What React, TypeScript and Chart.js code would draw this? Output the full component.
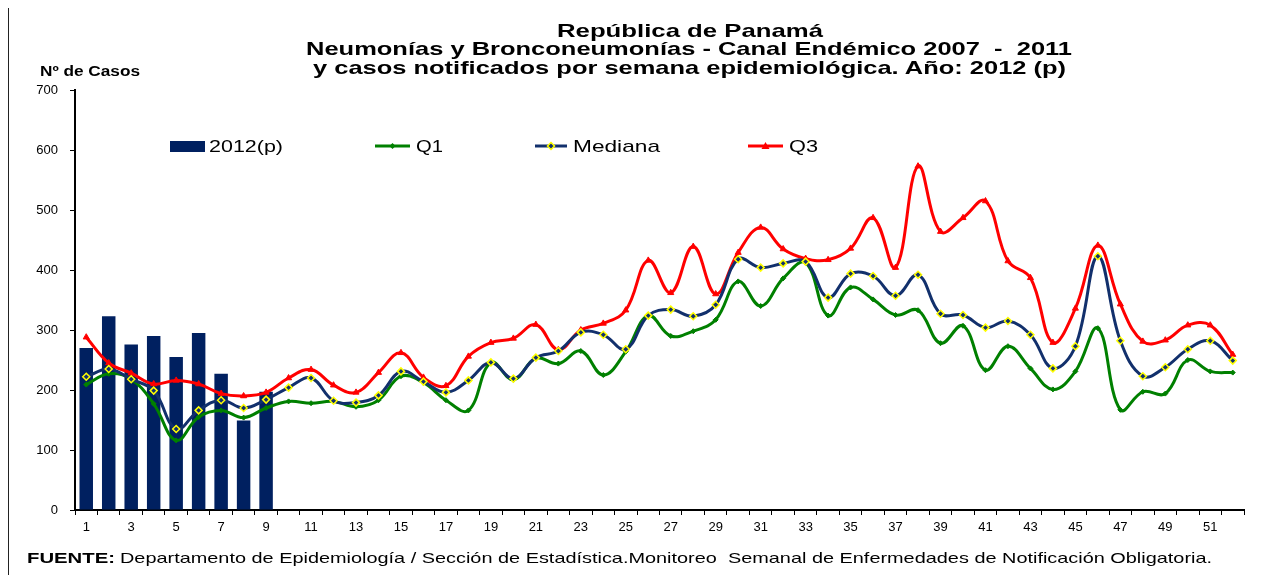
import React, { useEffect, useRef } from "react";
import { Chart, registerables } from "chart.js";

Chart.register(...registerables);

// ---- Data ----
const WEEKS = [
  "1", "2", "3", "4", "5", "6", "7", "8", "9", "10", "11", "12", "13",
  "14", "15", "16", "17", "18", "19", "20", "21", "22", "23", "24", "25", "26",
  "27", "28", "29", "30", "31", "32", "33", "34", "35", "36", "37", "38", "39",
  "40", "41", "42", "43", "44", "45", "46", "47", "48", "49", "50", "51", "52",
];

const CASES_2012 = [270, 323, 276, 290, 255, 295, 227, 149, 197];

const Q1 = [
  209, 227, 218, 177, 116, 155, 166, 154, 170, 181, 178, 181, 172,
  183, 223, 212, 183, 166, 246, 217, 253, 244, 265, 225, 264, 324,
  290, 298, 317, 381, 340, 386, 412, 324, 371, 351, 325, 333, 278,
  307, 233, 273, 236, 201, 231, 303, 167, 197, 194, 250, 231, 229,
];

const MEDIANA = [
  222, 235, 218, 199, 135, 166, 183, 170, 184, 204, 220, 182, 179,
  191, 231, 214, 196, 216, 246, 219, 254, 265, 296, 292, 268, 324,
  334, 323, 342, 418, 404, 411, 414, 354, 394, 390, 357, 392, 327,
  325, 304, 315, 292, 236, 273, 423, 282, 223, 238, 268, 282, 249,
];

const Q3 = [
  288, 245, 228, 210, 216, 210, 194, 190, 196, 220, 234, 208, 196,
  229, 262, 221, 207, 256, 279, 286, 309, 267, 300, 311, 333, 416,
  362, 439, 360, 429, 471, 435, 419, 417, 436, 487, 404, 573, 464,
  487, 515, 415, 387, 279, 336, 441, 343, 281, 283, 308, 308, 259,
];

const Y_MIN = 0;
const Y_MAX = 700;
const Y_STEP = 100;

const TITLE_LINES = [
  "República de Panamá",
  "Neumonías y Bronconeumonías - Canal Endémico 2007  -  2011",
  "y casos notificados por semana epidemiológica. Año: 2012 (p)",
];
const Y_TITLE = "Nº de Casos";
const SOURCE_BOLD = "FUENTE:";
const SOURCE_TEXT =
  "Departamento de Epidemiología / Sección de Estadística.Monitoreo  Semanal de Enfermedades de Notificación Obligatoria.";

// ---- Styles ----
const NAVY_BAR = "#002060";
const NAVY_LINE = "#12306C";
const GREEN = "#008000";
const RED = "#FF0000";
const YELLOW = "#FFFF00";
const FONT = '"Liberation Sans", Arial, sans-serif';

const W = 1258;
const H = 567;

let measureCtx: CanvasRenderingContext2D | null = null;
function textWidth(text: string, font: string): number {
  if (!measureCtx) measureCtx = document.createElement("canvas").getContext("2d");
  measureCtx!.font = font;
  return measureCtx!.measureText(text).width;
}

function FitText(props: { x: number; cy: number; w: number; size: number; bold?: boolean; text: string }) {
  const font = `${props.bold ? "bold " : ""}${props.size}px ${FONT}`;
  const s = props.w / textWidth(props.text, font);
  return (
    <div
      style={{
        position: "absolute",
        left: props.x,
        top: props.cy,
        font,
        lineHeight: 1,
        whiteSpace: "pre",
        color: "#000",
        transform: `translateY(-50%) scaleX(${s})`,
        transformOrigin: "0 50%",
      }}
    >
      {props.text}
    </div>
  );
}

function LegendLine(props: { x: number; cy: number; w: number; color: string; marker: "diamond" | "median" | "triangle" }) {
  const h = 12;
  const mx = props.w / 2;
  const my = h / 2;
  let marker: React.ReactNode = null;
  if (props.marker === "diamond") {
    marker = <polygon points={`${mx},${my - 3} ${mx + 3},${my} ${mx},${my + 3} ${mx - 3},${my}`} fill={GREEN} />;
  } else if (props.marker === "median") {
    marker = (
      <polygon
        points={`${mx},${my - 3.5} ${mx + 3.5},${my} ${mx},${my + 3.5} ${mx - 3.5},${my}`}
        fill={NAVY_LINE}
        stroke={YELLOW}
        strokeWidth={1.5}
      />
    );
  } else {
    marker = <polygon points={`${mx},${my - 4} ${mx + 4},${my + 3} ${mx - 4},${my + 3}`} fill={RED} />;
  }
  return (
    <svg
      width={props.w}
      height={h}
      style={{ position: "absolute", left: props.x, top: props.cy - h / 2 }}
    >
      <line x1={0} y1={my} x2={props.w} y2={my} stroke={props.color} strokeWidth={3} />
      {marker}
    </svg>
  );
}

export default function App() {
  const canvasRef = useRef<HTMLCanvasElement | null>(null);

  useEffect(() => {
    if (!canvasRef.current) return;
    const tickFont = { family: FONT, size: 13 };
    const chart = new Chart(canvasRef.current, {
      type: "bar",
      data: {
        labels: WEEKS,
        datasets: [
          {
            type: "bar",
            label: "2012(p)",
            data: CASES_2012,
            backgroundColor: NAVY_BAR,
            borderColor: "#35508f",
            borderWidth: 0,
            barPercentage: 0.6,
            categoryPercentage: 1,
            order: 10,
          },
          {
            type: "line",
            label: "Q1",
            data: Q1,
            borderColor: GREEN,
            borderWidth: 3,
            tension: 0.4,
            pointStyle: "rectRot",
            pointRadius: 2.5,
            pointBackgroundColor: GREEN,
            pointBorderColor: GREEN,
            pointBorderWidth: 1,
            order: 3,
          },
          {
            type: "line",
            label: "Q3",
            data: Q3,
            borderColor: RED,
            borderWidth: 3,
            tension: 0.4,
            pointStyle: "triangle",
            pointRadius: 3.5,
            pointBackgroundColor: RED,
            pointBorderColor: RED,
            pointBorderWidth: 1,
            order: 2,
          },
          {
            type: "line",
            label: "Mediana",
            data: MEDIANA,
            borderColor: NAVY_LINE,
            borderWidth: 3,
            tension: 0.4,
            pointStyle: "rectRot",
            pointRadius: 3.5,
            pointBackgroundColor: NAVY_LINE,
            pointBorderColor: YELLOW,
            pointBorderWidth: 1.5,
            order: 1,
          },
        ],
      },
      options: {
        responsive: false,
        maintainAspectRatio: false,
        animation: false,
        layout: { padding: { top: 82, right: 22, left: 0, bottom: 0 } },
        plugins: {
          legend: { display: false },
          title: { display: false },
          tooltip: { enabled: false },
        },
        scales: {
          x: {
            offset: true,
            grid: {
              display: true,
              drawOnChartArea: false,
              drawTicks: true,
              tickLength: 5,
              color: "#000",
              offset: true,
            },
            border: { display: true, color: "#000", width: 2 },
            ticks: {
              autoSkip: false,
              maxRotation: 0,
              minRotation: 0,
              padding: 5,
              color: "#000",
              font: tickFont,
              callback: (_v: any, i: number) => (i % 2 === 0 ? WEEKS[i] : ""),
            },
            afterFit: (s: any) => {
              s.height = 65;
            },
          },
          y: {
            min: Y_MIN,
            max: Y_MAX,
            ticks: { stepSize: Y_STEP, padding: 12, color: "#000", font: tickFont },
            grid: { drawOnChartArea: false, drawTicks: true, tickLength: 5, color: "#000" },
            border: { display: true, color: "#000", width: 2 },
            afterFit: (s: any) => {
              s.width = 67;
            },
          },
        },
      },
    } as any);
    return () => chart.destroy();
  }, []);

  return (
    <div style={{ position: "relative", width: W, height: H, fontFamily: FONT }}>
      <div
        style={{
          position: "absolute",
          left: 0,
          top: -2,
          width: 1266,
          height: 575,
          borderLeft: "1px solid #222",
          borderTop: "1px solid #222",
          boxSizing: "border-box",
          pointerEvents: "none",
        }}
      />
      <canvas ref={canvasRef} width={W} height={H} style={{ display: "block", width: W, height: H }} />

      <FitText x={549} cy={22} w={266} size={19} bold text={TITLE_LINES[0]} />
      <FitText x={298} cy={40} w={766} size={19} bold text={TITLE_LINES[1]} />
      <FitText x={305} cy={59} w={754} size={19} bold text={TITLE_LINES[2]} />
      <FitText x={32} cy={63} w={100} size={14} bold text={Y_TITLE} />

      <div style={{ position: "absolute", left: 162, top: 133, width: 35, height: 11, background: NAVY_BAR }} />
      <FitText x={201} cy={138} w={74} size={17} text="2012(p)" />
      <LegendLine x={367} cy={138} w={35} color={GREEN} marker="diamond" />
      <FitText x={408} cy={138} w={27} size={17} text="Q1" />
      <LegendLine x={527} cy={138} w={32} color={NAVY_LINE} marker="median" />
      <FitText x={565} cy={138} w={87} size={17} text="Mediana" />
      <LegendLine x={740} cy={138} w={35} color={RED} marker="triangle" />
      <FitText x={781} cy={138} w={29} size={17} text="Q3" />

      <FitText x={19} cy={549} w={88} size={15} bold text={SOURCE_BOLD} />
      <FitText x={112} cy={549} w={1092} size={15} text={SOURCE_TEXT} />
    </div>
  );
}
